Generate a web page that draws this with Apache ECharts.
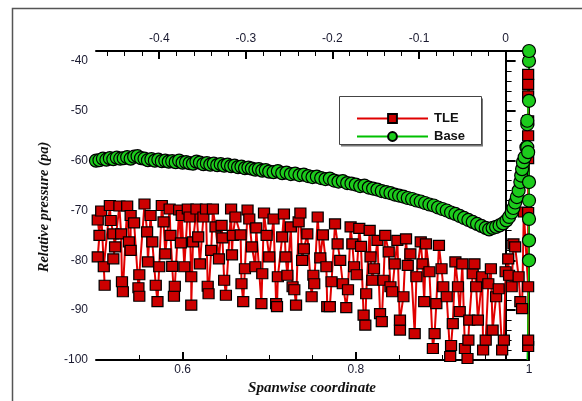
<!DOCTYPE html>
<html>
<head>
<meta charset="utf-8">
<script src="https://cdn.jsdelivr.net/npm/echarts@6/dist/echarts.min.js"></script>
<style>
  html, body { margin: 0; padding: 0; background: #fff; }
  #chart { width: 582px; height: 401px; }
</style>
</head>
<body>
<div id="chart"></div>
<script>
// TLE series (x = spanwise coordinate, y = relative pressure)
const tleX = [
  0.502, 0.504, 0.502, 0.506, 0.510, 0.509, 0.516, 0.517, 0.520, 0.522, 0.520, 0.527, 0.529, 0.530, 0.531,
  0.536, 0.538, 0.540, 0.540, 0.544, 0.549, 0.550, 0.550, 0.556, 0.559, 0.560, 0.563, 0.565, 0.569, 0.571,
  0.573, 0.576, 0.578, 0.580, 0.585, 0.586, 0.588, 0.590, 0.591, 0.596, 0.598, 0.599, 0.602, 0.606, 0.608,
  0.610, 0.610, 0.612, 0.616, 0.618, 0.620, 0.624, 0.627, 0.629, 0.630, 0.633, 0.635, 0.638, 0.642, 0.645,
  0.646, 0.648, 0.650, 0.656, 0.657, 0.658, 0.661, 0.667, 0.668, 0.670, 0.672, 0.675, 0.677, 0.680, 0.684,
  0.685, 0.691, 0.692, 0.694, 0.697, 0.700, 0.705, 0.708, 0.709, 0.710, 0.715, 0.717, 0.719, 0.721, 0.725,
  0.727, 0.729, 0.731, 0.734, 0.736, 0.738, 0.740, 0.744, 0.749, 0.751, 0.752, 0.756, 0.759, 0.762, 0.766,
  0.767, 0.770, 0.772, 0.776, 0.779, 0.782, 0.785, 0.789, 0.791, 0.794, 0.796, 0.798, 0.801, 0.804, 0.806,
  0.809, 0.811, 0.812, 0.816, 0.817, 0.819, 0.821, 0.825, 0.828, 0.830, 0.832, 0.834, 0.838, 0.840, 0.842,
  0.845, 0.848, 0.851, 0.851, 0.855, 0.858, 0.860, 0.863, 0.868, 0.870, 0.875, 0.877, 0.879, 0.881, 0.885,
  0.889, 0.891, 0.893, 0.896, 0.899, 0.901, 0.905, 0.909, 0.910, 0.912, 0.915, 0.918, 0.920, 0.923, 0.926,
  0.929, 0.930, 0.931, 0.935, 0.937, 0.939, 0.941, 0.946, 0.947, 0.950, 0.953, 0.956, 0.958, 0.962, 0.965,
  0.969, 0.971, 0.973, 0.976, 0.977, 0.980, 0.982, 0.984, 0.988, 0.990, 0.992, 0.994,
  0.999, 0.999, 0.999, 0.999, 0.999, 0.999, 0.999, 0.999, 0.999, 0.999
];
const tleY = [
  -71.9, -75.0, -79.3, -70.1, -85.0, -81.3, -69.0, -72.0, -74.7, -77.3, -79.7, -69.1, -74.7, -84.3, -86.3,
  -69.1, -76.3, -78.0, -71.0, -72.5, -85.5, -87.2, -82.9, -68.7, -74.3, -80.3, -71.0, -76.3, -85.0, -88.3,
  -81.3, -69.0, -72.3, -78.7, -69.7, -75.0, -81.2, -87.2, -85.2, -69.9, -76.5, -71.0, -81.3, -69.7, -71.3,
  -83.3, -89.0, -76.3, -69.7, -75.3, -80.7, -71.3, -69.7, -85.2, -86.7, -78.0, -69.7, -73.3, -79.7, -73.0,
  -75.5, -84.0, -87.0, -69.7, -78.9, -75.0, -71.3, -74.9, -84.7, -88.3, -81.7, -69.9, -71.7, -77.3, -81.3,
  -73.5, -88.7, -82.7, -70.5, -75.0, -79.3, -71.7, -88.7, -89.3, -83.3, -75.3, -70.7, -79.3, -83.0, -73.3,
  -85.3, -85.9, -89.0, -72.3, -70.5, -80.0, -77.7, -74.7, -87.3, -83.0, -84.7, -71.3, -79.5, -74.9, -81.3,
  -89.3, -89.3, -84.3, -72.7, -76.7, -80.0, -84.7, -89.5, -85.9, -73.3, -76.7, -81.3, -82.9, -73.6, -77.2,
  -91.0, -93.0, -86.7, -74.0, -79.3, -84.0, -81.7, -76.0, -90.7, -92.3, -84.0, -75.0, -78.3, -85.3, -86.3,
  -80.7, -76.0, -94.0, -92.0, -87.3, -75.7, -81.0, -78.7, -94.7, -83.3, -76.3, -80.7, -88.3, -76.7, -82.3,
  -97.7, -94.7, -88.7, -77.0, -81.7, -85.3, -87.3, -99.3, -97.1, -92.7, -80.3, -85.3, -90.3, -80.7, -97.7,
  -99.7, -96.0, -92.0, -82.7, -80.7, -85.3, -92.0, -83.3, -98.0, -96.0, -84.7, -81.7, -94.0, -87.3, -85.7,
  -98.0, -96.0, -82.3, -79.7, -83.0, -85.3, -76.7, -77.3, -83.3, -88.3, -89.7, -70.3,
  -85.3, -97.3, -96.0, -70.4, -59.6, -55.0, -52.0, -47.0, -44.7, -42.7
];

// Base series
const baseX = [
  0.500, 0.504, 0.508, 0.512, 0.516, 0.520, 0.524, 0.528, 0.532, 0.536, 0.540, 0.544, 0.548, 0.552, 0.556,
  0.560, 0.564, 0.568, 0.572, 0.576, 0.580, 0.584, 0.588, 0.592, 0.596, 0.600, 0.604, 0.608, 0.612, 0.616,
  0.620, 0.624, 0.628, 0.632, 0.636, 0.640, 0.644, 0.648, 0.652, 0.656, 0.660, 0.664, 0.668, 0.672, 0.676,
  0.680, 0.684, 0.688, 0.692, 0.696, 0.700, 0.705, 0.710, 0.715, 0.720, 0.725, 0.730, 0.735, 0.740, 0.745,
  0.750, 0.755, 0.760, 0.765, 0.770, 0.775, 0.780, 0.785, 0.790, 0.795, 0.800, 0.805, 0.810, 0.815, 0.820,
  0.825, 0.830, 0.835, 0.840, 0.845, 0.850, 0.855, 0.860, 0.865, 0.870, 0.875, 0.880, 0.885, 0.890, 0.895,
  0.900, 0.905, 0.910, 0.915, 0.920, 0.925, 0.930, 0.935, 0.940, 0.945, 0.950, 0.954, 0.958, 0.962, 0.966,
  0.970, 0.974, 0.977, 0.980, 0.982, 0.984, 0.986, 0.988, 0.990, 0.991, 0.992, 0.993, 0.995, 0.997,
  0.998, 0.998, 1.000, 1.000, 1.000, 0.998, 0.999, 1.000, 1.000, 1.000, 1.000, 1.000, 0.998
];
const baseY = [
  -60.0, -59.9, -59.6, -59.8, -59.5, -59.7, -59.4, -59.6, -59.5, -59.3, -59.6, -59.2, -59.1, -59.5, -59.6,
  -59.9, -59.7, -60.0, -59.8, -60.1, -60.0, -60.2, -60.1, -60.3, -60.0, -60.4, -60.3, -60.5, -60.6, -60.2,
  -60.4, -60.7, -60.5, -60.8, -60.6, -60.9, -60.7, -61.0, -60.8, -61.1, -61.0, -61.3, -61.2, -61.5, -61.4,
  -61.6, -61.8, -61.7, -62.0, -61.9, -62.2, -62.3, -62.1, -62.5, -62.4, -62.7, -62.6, -62.9, -62.8, -63.1,
  -63.3, -63.2, -63.5, -63.7, -63.6, -64.0, -64.2, -64.1, -64.5, -64.6, -64.8, -65.1, -65.0, -65.4, -65.6,
  -65.8, -66.1, -66.3, -66.5, -66.8, -67.0, -67.2, -67.5, -67.7, -68.0, -68.2, -68.5, -68.8, -69.0, -69.4,
  -69.7, -70.0, -70.4, -70.7, -71.1, -71.5, -71.9, -72.3, -72.7, -73.1, -73.5, -73.8, -73.5, -73.3, -73.0,
  -72.6, -72.0, -71.3, -70.4, -69.5, -68.4, -67.3, -66.0, -64.3, -63.0, -61.7, -60.3, -59.3, -57.3,
  -52.7, -52.0, -48.0, -40.0, -38.0, -57.3, -58.3, -64.3, -68.0, -71.7, -76.0, -80.0, -100.0
];

const xTicks = [0.6, 0.8, 1];
const xMinor = [0.55, 0.65, 0.7, 0.75, 0.85, 0.9, 0.95];
const topTicks = [-0.4, -0.3, -0.2, -0.1, 0];
const topMinor = [-0.46, -0.44, -0.42, -0.38, -0.36, -0.34, -0.32, -0.28, -0.26, -0.24, -0.22,
  -0.18, -0.16, -0.14, -0.12, -0.08, -0.06, -0.04, -0.02, 0.02];
const yTicks = [-100, -90, -80, -70, -60, -50, -40];
const yMinor = [-98, -96, -94, -92, -88, -86, -84, -82, -78, -76, -74, -72, -68, -66, -64, -62,
  -58, -56, -54, -52, -48, -46, -44, -42];

const tleData = tleX.map((x, i) => [x, tleY[i]]);
const baseData = baseX.map((x, i) => {
  if (baseY[i] <= -100) return { value: [x, baseY[i]], symbol: 'none' };
  return [x, baseY[i]];
});

const labelFont = { fontFamily: 'Liberation Sans', fontSize: 12, color: '#1a1a30' };
const lineBlack = { show: true, lineStyle: { color: '#000', width: 2 } };

let myChart = echarts.init(document.getElementById('chart'));
myChart.setOption({
  animation: false,
  grid: { left: 96, right: 53, top: 51, bottom: 41, show: false },
  legend: {
    orient: 'vertical',
    left: 351,
    top: 107,
    itemWidth: 71,
    itemHeight: 11,
    itemGap: 5,
    selectedMode: false,
    textStyle: { fontFamily: 'Liberation Sans', fontWeight: 'bold', fontSize: 13, color: '#111', padding: [0, 0, 0, 1] },
    data: ['TLE', 'Base']
  },
  xAxis: [
    {
      type: 'value', position: 'bottom', min: 0.5, max: 1,
      axisLine: lineBlack,
      axisTick: { show: true, inside: true, length: 8, customValues: xTicks, lineStyle: { color: '#000', width: 2 } },
      axisLabel: { ...labelFont, margin: 4, customValues: xTicks },
      splitLine: { show: false }
    },
    {
      type: 'value', position: 'bottom', min: 0.5, max: 1,
      axisLine: { show: false },
      axisTick: { show: true, inside: true, length: 5, customValues: xMinor, lineStyle: { color: '#000', width: 1 } },
      axisLabel: { show: false },
      splitLine: { show: false }
    },
    {
      type: 'value', position: 'top', min: -0.473, max: 0.027,
      axisLine: lineBlack,
      axisTick: { show: true, inside: true, length: 8, customValues: topTicks, lineStyle: { color: '#000', width: 2 } },
      axisLabel: { ...labelFont, margin: 6, customValues: topTicks },
      splitLine: { show: false }
    },
    {
      type: 'value', position: 'top', min: -0.473, max: 0.027,
      axisLine: { show: false },
      axisTick: { show: true, inside: true, length: 5, customValues: topMinor, lineStyle: { color: '#000', width: 1 } },
      axisLabel: { show: false },
      splitLine: { show: false }
    }
  ],
  yAxis: [
    {
      type: 'value', position: 'left', min: -100, max: -38,
      axisLine: lineBlack,
      axisTick: { show: true, inside: true, length: 10, customValues: yTicks, lineStyle: { color: '#000', width: 2 } },
      axisLabel: { ...labelFont, margin: 8, customValues: yTicks },
      splitLine: { show: false }
    },
    {
      type: 'value', position: 'left', min: -100, max: -38,
      axisLine: { show: false },
      axisTick: { show: true, inside: true, length: 6, customValues: yMinor, lineStyle: { color: '#000', width: 1 } },
      axisLabel: { show: false },
      splitLine: { show: false }
    },
    {
      type: 'value', position: 'right', min: -100, max: -38,
      axisLine: lineBlack,
      axisTick: { show: false },
      axisLabel: { show: false },
      splitLine: { show: false }
    }
  ],
  graphic: [
    {
      type: 'rect', z: 0, silent: true,
      shape: { x: 12.5, y: 8.5, width: 620, height: 440 },
      style: { fill: 'none', stroke: '#555', lineWidth: 1.5 }
    },
    {
      type: 'rect', z: 3, silent: true,
      shape: { x: 341, y: 98.5, width: 142, height: 48 },
      style: { fill: '#777' }
    },
    {
      type: 'rect', z: 3, silent: true,
      shape: { x: 339.5, y: 96.5, width: 142, height: 48 },
      style: { fill: '#fff', stroke: '#444', lineWidth: 1 }
    },
    {
      type: 'text', z: 5, silent: true,
      x: 44, y: 207, rotation: Math.PI / 2,
      style: {
        text: 'Relative pressure (pa)', fill: '#111',
        font: 'italic bold 14.5px "Liberation Serif"',
        align: 'center', verticalAlign: 'middle'
      }
    },
    {
      type: 'text', z: 5, silent: true,
      x: 312, y: 388,
      style: {
        text: 'Spanwise coordinate', fill: '#111',
        font: 'italic bold 15px "Liberation Serif"',
        align: 'center', verticalAlign: 'middle'
      }
    }
  ],
  series: [
    {
      name: 'TLE',
      type: 'line',
      xAxisIndex: 0, yAxisIndex: 0,
      data: tleData,
      clip: false,
      symbol: 'rect',
      symbolSize: [11, 10],
      showAllSymbol: true,
      lineStyle: { color: '#e00000', width: 2 },
      itemStyle: { color: '#cc0000', borderColor: '#000', borderWidth: 1.2 }
    },
    {
      name: 'Base',
      type: 'line',
      xAxisIndex: 0, yAxisIndex: 0,
      data: baseData,
      clip: false,
      symbol: 'circle',
      symbolSize: 13,
      showAllSymbol: true,
      lineStyle: { color: '#00c000', width: 1.5 },
      itemStyle: { color: '#1ccc1c', borderColor: '#000', borderWidth: 1.2 }
    }
  ]
});
</script>
</body>
</html>
